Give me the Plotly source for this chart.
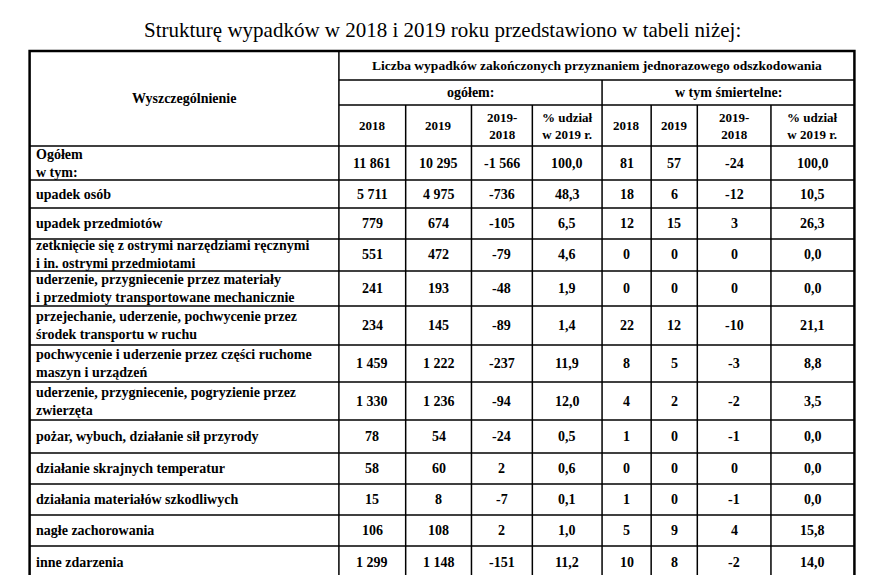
import plotly.graph_objects as go

title = "Strukturę wypadków w 2018 i 2019 roku przedstawiono w tabeli niżej:"

categories = [
    "Ogółem<br>w tym:",
    "upadek osób",
    "upadek przedmiotów",
    "zetknięcie się z ostrymi narzędziami ręcznymi<br>i in. ostrymi przedmiotami",
    "uderzenie, przygniecenie przez materiały<br>i przedmioty transportowane mechanicznie",
    "przejechanie, uderzenie, pochwycenie przez<br>środek transportu w ruchu",
    "pochwycenie i uderzenie przez części ruchome<br>maszyn i urządzeń",
    "uderzenie, przygniecenie, pogryzienie przez<br>zwierzęta",
    "pożar, wybuch, działanie sił przyrody",
    "działanie skrajnych temperatur",
    "działania materiałów szkodliwych",
    "nagłe zachorowania",
    "inne zdarzenia",
]
total_2018 = ["11 861", "5 711", "779", "551", "241", "234", "1 459", "1 330", "78", "58", "15", "106", "1 299"]
total_2019 = ["10 295", "4 975", "674", "472", "193", "145", "1 222", "1 236", "54", "60", "8", "108", "1 148"]
total_diff = ["-1 566", "-736", "-105", "-79", "-48", "-89", "-237", "-94", "-24", "2", "-7", "2", "-151"]
total_share = ["100,0", "48,3", "6,5", "4,6", "1,9", "1,4", "11,9", "12,0", "0,5", "0,6", "0,1", "1,0", "11,2"]
fatal_2018 = ["81", "18", "12", "0", "0", "22", "8", "4", "1", "0", "1", "5", "10"]
fatal_2019 = ["57", "6", "15", "0", "0", "12", "5", "2", "0", "0", "0", "9", "8"]
fatal_diff = ["-24", "-12", "3", "0", "0", "-10", "-3", "-2", "-1", "0", "-1", "4", "-2"]
fatal_share = ["100,0", "10,5", "26,3", "0,0", "0,0", "21,1", "8,8", "3,5", "0,0", "0,0", "0,0", "15,8", "14,0"]
sub_headers = ["2018", "2019", "2019-<br>2018", "% udział<br>w 2019 r.",
               "2018", "2019", "2019-<br>2018", "% udział<br>w 2019 r."]

# layout of the grid (pixels in an 885x575 frame)
W, H = 885, 575
col_x = [22, 337, 405, 472, 534, 605, 655, 702, 777, 862]
head_y = [43, 72, 97, 138]
row_y = [138, 172, 200, 231, 263, 298, 337, 374, 412, 445, 476, 507, 538, 570]

FONT = "Liberation Serif"
shapes = []
ann = []


def px(x):
    return x / W


def py(y):
    return 1 - y / H


def line(x0, y0, x1, y1, w=1.5):
    shapes.append(dict(type="line", xref="paper", yref="paper",
                       x0=px(x0), y0=py(y0), x1=px(x1), y1=py(y1),
                       line=dict(color="black", width=w), layer="above"))


def text(x, y, s, size=14, anchor="center", bold=True):
    ann.append(dict(x=px(x), y=py(y), xref="paper", yref="paper",
                    text=f"<b>{s}</b>" if bold else s, showarrow=False,
                    xanchor=anchor, yanchor="middle",
                    align="left" if anchor == "left" else "center",
                    font=dict(family=FONT, size=size, color="black")))


# outer frame
shapes.append(dict(type="rect", xref="paper", yref="paper",
                   x0=px(col_x[0]), y0=py(head_y[0]), x1=px(col_x[-1]), y1=py(row_y[-1]),
                   line=dict(color="black", width=2.5)))
# header grid
line(col_x[1], head_y[0], col_x[1], row_y[-1])
line(col_x[1], head_y[1], col_x[-1], head_y[1])
line(col_x[1], head_y[2], col_x[-1], head_y[2])
line(col_x[5], head_y[1], col_x[5], row_y[-1])
for cx in col_x[2:5] + col_x[6:9]:
    line(cx, head_y[2], cx, row_y[-1])
for ry in row_y[:-1]:
    line(col_x[0], ry, col_x[-1], ry)

text(442, 22, title, size=21, bold=False)
text((col_x[0] + col_x[1]) / 2, (head_y[0] + head_y[3]) / 2, "Wyszczególnienie")
text((col_x[1] + col_x[-1]) / 2, (head_y[0] + head_y[1]) / 2,
     "Liczba wypadków zakończonych przyznaniem jednorazowego odszkodowania", size=13.5)
text((col_x[1] + col_x[5]) / 2, (head_y[1] + head_y[2]) / 2, "ogółem:")
text((col_x[5] + col_x[-1]) / 2, (head_y[1] + head_y[2]) / 2, "w tym śmiertelne:")
for i, s in enumerate(sub_headers):
    text((col_x[i + 1] + col_x[i + 2]) / 2, (head_y[2] + head_y[3]) / 2, s, size=13)

columns = [total_2018, total_2019, total_diff, total_share,
           fatal_2018, fatal_2019, fatal_diff, fatal_share]
for r, cat in enumerate(categories):
    yc = (row_y[r] + row_y[r + 1]) / 2
    text(col_x[0] + 4, yc, cat, anchor="left")
    for c, col in enumerate(columns):
        text((col_x[c + 1] + col_x[c + 2]) / 2, yc, col[r])

fig = go.Figure()
fig.update_layout(
    autosize=True, margin=dict(l=0, r=0, t=0, b=0),
    plot_bgcolor="white", paper_bgcolor="white",
    xaxis=dict(visible=False, fixedrange=True),
    yaxis=dict(visible=False, fixedrange=True),
    shapes=shapes, annotations=ann, showlegend=False,
)
fig.write_html("out.html", default_width="100%", default_height="100vh")
